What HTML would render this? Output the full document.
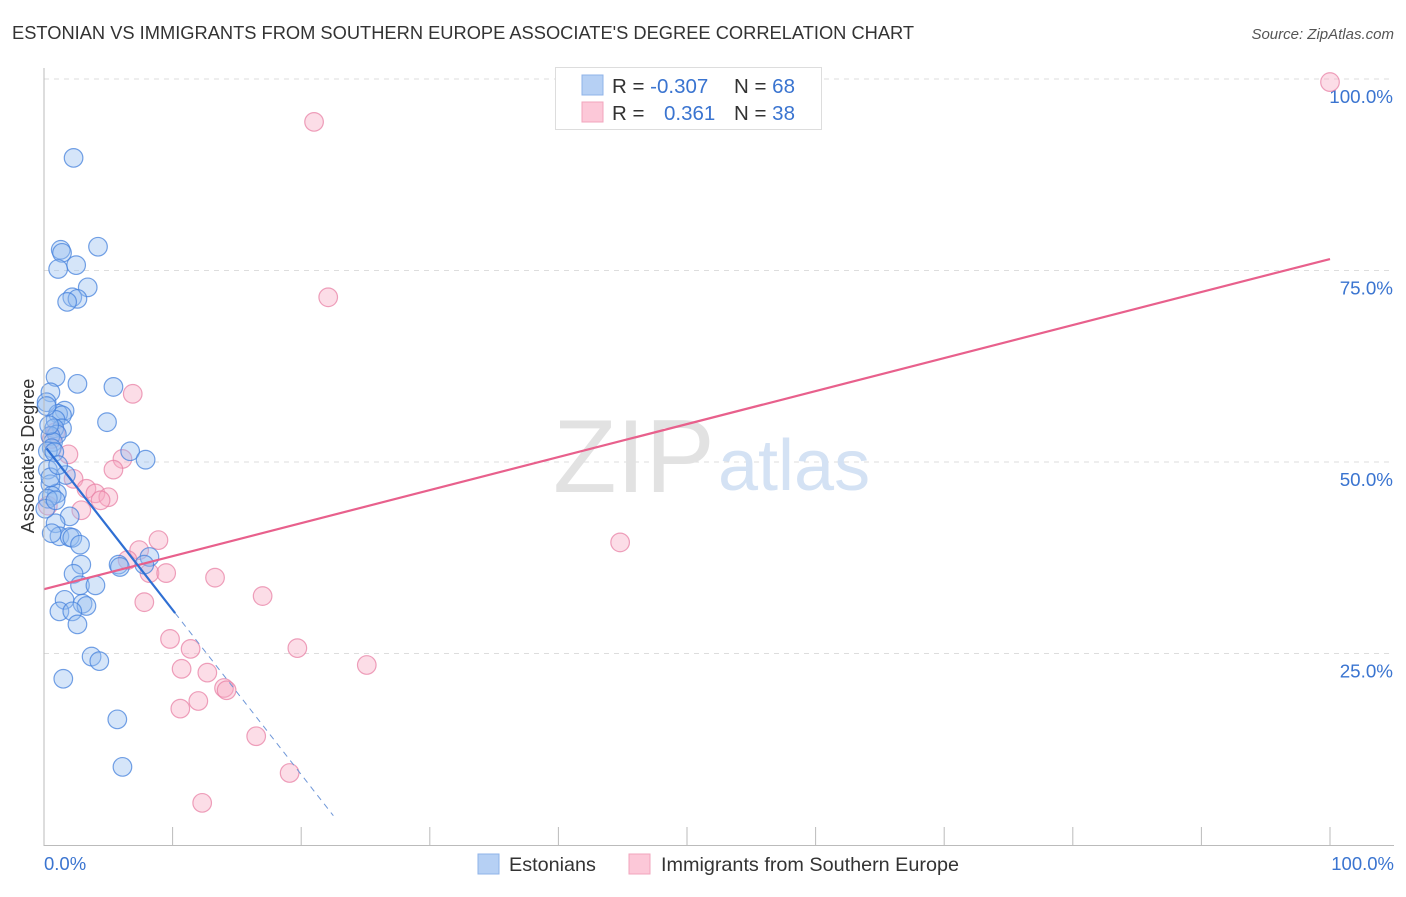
<!DOCTYPE html>
<html><head><meta charset="utf-8"><style>
body{margin:0;background:#fff;font-family:"Liberation Sans",sans-serif}
svg text{font-family:"Liberation Sans",sans-serif}
</style></head><body>
<svg id="chart" width="1406" height="892" xmlns="http://www.w3.org/2000/svg">
<text x="12" y="39" font-size="18.3" fill="#333">ESTONIAN VS IMMIGRANTS FROM SOUTHERN EUROPE ASSOCIATE'S DEGREE CORRELATION CHART</text>
<text x="1394" y="39" font-size="15" fill="#555" font-style="italic" text-anchor="end">Source: ZipAtlas.com</text>
<g id="grid"></g>
<text x="553" y="492" font-size="104" fill="#e2e2e2" font-family="Liberation Serif">ZIP</text>
<text x="718" y="490" font-size="72" fill="#d4e2f4">atlas</text>
<g id="pts"></g>
<g id="lines"></g>
<line x1="44" y1="68" x2="44" y2="846" stroke="#bbb"/>
<line x1="44" y1="845.5" x2="1394" y2="845.5" stroke="#bbb"/>
<g id="ticks"></g>
<text x="28" y="456" font-size="18" fill="#333" text-anchor="middle" transform="rotate(-90 28 456)" dy="6">Associate's Degree</text>
<text x="44" y="870" font-size="18.5" fill="#3a74d0">0.0%</text>
<text x="1394" y="870" font-size="18.5" fill="#3a74d0" text-anchor="end">100.0%</text>
<g>
<rect x="555.5" y="67.5" width="266" height="62" fill="#fff" stroke="#ddd"/>
<rect x="582" y="75" width="21" height="20" fill="#b6d0f4" stroke="#8fb3e8"/>
<rect x="582" y="102" width="21" height="20" fill="#fcc8d8" stroke="#f2a5bd"/>
<text x="612" y="93" font-size="20.5" fill="#333">R = <tspan fill="#3a74d0">-0.307</tspan></text>
<text x="734" y="93" font-size="20.5" fill="#333">N = <tspan fill="#3a74d0">68</tspan></text>
<text x="612" y="120" font-size="20.5" fill="#333">R = <tspan x="664" fill="#3a74d0">0.361</tspan></text>
<text x="734" y="120" font-size="20.5" fill="#333">N = <tspan fill="#3a74d0">38</tspan></text>
</g>
<g>
<rect x="478" y="854" width="21" height="20" fill="#b6d0f4" stroke="#8fb3e8"/>
<text x="509" y="871" font-size="19.8" fill="#333">Estonians</text>
<rect x="629" y="854" width="21" height="20" fill="#fcc8d8" stroke="#f2a5bd"/>
<text x="661" y="871" font-size="19.8" fill="#333">Immigrants from Southern Europe</text>
</g>
</svg>
<script>
const yTicks=[25,50,75,100];
const yTickLabels=["25.0%","50.0%","75.0%","100.0%"];
const xTicks=[10,20,30,40,50,60,70,80,90,100];
const blueX=[2.3,4.2,1.3,1.4,1.1,2.5,3.4,2.2,2.6,1.8,0.9,2.6,5.4,0.5,0.2,1.6,1.1,1.4,0.9,4.9,1.4,0.8,1.0,0.5,0.7,6.7,7.9,0.6,0.3,1.7,0.3,0.5,1.0,0.6,2.0,0.9,1.2,2.0,2.2,2.8,8.2,5.8,5.9,7.8,2.9,2.3,2.8,4.0,1.6,3.0,3.3,1.2,2.2,2.6,3.7,4.3,1.5,5.7,6.1,0.3,0.1,0.6,0.9,0.2,0.4,0.5,0.8,1.1];
const blueY=[89.7,78.1,77.7,77.3,75.2,75.7,72.8,71.5,71.3,70.9,61.1,60.2,59.8,59.1,57.8,56.7,56.3,56.1,55.5,55.2,54.4,54.4,53.6,53.4,52.6,51.4,50.3,51.8,51.4,48.3,49.0,47.1,45.9,45.6,42.9,42.0,40.3,40.2,40.1,39.2,37.6,36.6,36.3,36.6,36.6,35.4,33.9,33.9,32.0,31.5,31.2,30.5,30.5,28.8,24.6,24.0,21.7,16.4,10.2,45.2,43.9,40.7,45.0,57.3,54.8,48.0,51.3,49.6];
const pinkX=[100,21.0,22.1,6.9,1.9,6.1,5.4,2.3,3.3,4.0,5.0,4.4,2.9,0.9,0.6,8.9,7.4,6.5,8.2,9.5,13.3,7.8,17.0,9.8,11.4,19.7,25.1,10.7,12.7,14.0,14.2,12.0,10.6,16.5,19.1,12.3,44.8,0.3];
const pinkY=[99.6,94.4,71.5,58.9,51.0,50.4,49.0,47.8,46.5,45.9,45.4,45.0,43.7,53.9,53.0,39.8,38.5,37.2,35.5,35.5,34.9,31.7,32.5,26.9,25.6,25.7,23.5,23.0,22.5,20.5,20.2,18.8,17.8,14.2,9.4,5.5,39.5,44.3];
const blueLine={b:52.2,m:-2.15,solidTo:10.2,dashTo:22.5};
const pinkLine={b:33.4,m:0.431};
const X=v=>44+v*12.86, Y=v=>845-v*7.66;
const NS="http://www.w3.org/2000/svg";
function mk(t,a,p){const e=document.createElementNS(NS,t);for(const k in a)e.setAttribute(k,a[k]);p.appendChild(e);return e;}
const grid=document.getElementById('grid');
yTicks.forEach((t,i)=>{
 const l=mk('line',{x1:44,x2:1394,y1:Y(t),y2:Y(t),stroke:'#ddd','stroke-dasharray':'5,5'},grid);
 
 
 const tx=mk('text',{x:1393,y:Y(t)+24,'font-size':18.8,fill:'#3a74d0','text-anchor':'end'},grid);
 tx.textContent=yTickLabels[i];
 
 
});
const tk=document.getElementById('ticks');
xTicks.forEach(t=>{
 const l=mk('line',{x1:X(t),x2:X(t),y1:827,y2:845,stroke:'#bbb'},tk);
 
 
});
const pts=document.getElementById('pts');
pinkX.forEach((x,i)=>{
 const c=mk('circle',{cx:X(x),cy:Y(pinkY[i]),r:9.3,fill:'rgba(248,170,195,0.4)',stroke:'rgba(232,130,165,0.75)','stroke-width':1.2},pts);
 
 
});
blueX.forEach((x,i)=>{
 const c=mk('circle',{cx:X(x),cy:Y(blueY[i]),r:9.3,fill:'rgba(150,190,240,0.4)',stroke:'rgba(70,130,220,0.75)','stroke-width':1.2},pts);
 
 
});
const ln=document.getElementById('lines');
const f=(L,x)=>L.b+L.m*x;
let a=mk('line',{x1:X(0),y1:Y(f(pinkLine,0)),x2:X(100),y2:Y(f(pinkLine,100)),stroke:'#e8608c','stroke-width':2.2},ln);


let b=mk('line',{x1:X(0.2),y1:Y(f(blueLine,0.2)),x2:X(blueLine.solidTo),y2:Y(f(blueLine,blueLine.solidTo)),stroke:'#2f6fd3','stroke-width':2.2},ln);


let d=mk('line',{x1:X(blueLine.solidTo),y1:Y(f(blueLine,blueLine.solidTo)),x2:X(blueLine.dashTo),y2:Y(f(blueLine,blueLine.dashTo)),stroke:'#6f97d8','stroke-width':1,'stroke-dasharray':'6,5'},ln);


</script>
</body></html>
